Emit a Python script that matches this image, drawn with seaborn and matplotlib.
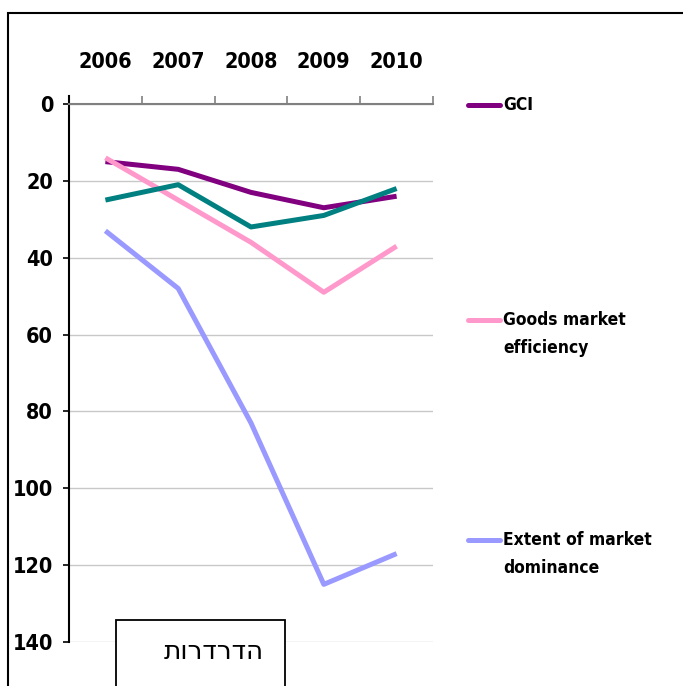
import pandas as pd
import matplotlib.pyplot as plt
import seaborn as sns
from matplotlib.lines import Line2D
from matplotlib.patches import Rectangle

# Data (ranks, lower = better)
years = ["2006", "2007", "2008", "2009", "2010"]
gci = [15, 17, 23, 27, 24]
goods_market = [14, 25, 36, 49, 37]
market_dominance = [33, 48, 83, 125, 117]
teal_series = [25, 21, 32, 29, 22]

series_names = ["GCI", "Goods market efficiency", "Extent of market dominance", "Series 4"]
legend_labels = ["GCI", "Goods market\nefficiency", "Extent of market\ndominance"]
colors = ["#800080", "#FF99CC", "#9999FF", "#008080"]
y_ticks = [0, 20, 40, 60, 80, 100, 120, 140]
box_text = "הדרדרות"

rows = []
for name, vals in zip(series_names, [gci, goods_market, market_dominance, teal_series]):
    for yr, v in zip(years, vals):
        rows.append({"year": yr, "rank": v, "series": name})
df = pd.DataFrame(rows)

sns.set_theme(style="white")
plt.rcParams["font.family"] = ["DejaVu Sans"]
plt.rcParams["font.stretch"] = "condensed"
plt.rcParams["font.weight"] = "bold"
plt.rcParams["text.color"] = "black"
plt.rcParams["xtick.color"] = "black"
plt.rcParams["ytick.color"] = "black"

W, H = 683, 686
fig = plt.figure(figsize=(W / 100, H / 100), dpi=100)
fig.patch.set_facecolor("white")

# axes box in pixels: left 69, right 433, top 104, bottom 642
ax = fig.add_axes([69 / W, 1 - 642 / H, (433 - 69) / W, (642 - 104) / H])

sns.lineplot(data=df, x="year", y="rank", hue="series", hue_order=series_names,
             palette=dict(zip(series_names, colors)), linewidth=3.6,
             legend=False, ax=ax, solid_capstyle="butt")

ax.set_xlim(-0.5, len(years) - 0.5)
ax.set_ylim(140, 0)
ax.set_xlabel("")
ax.set_ylabel("")

# x axis on top, ticks at category boundaries, labels at centres
ax.xaxis.tick_top()
ax.set_xticks([i - 0.5 for i in range(len(years) + 1)])
ax.set_xticklabels([])
ax.set_xticks(range(len(years)), minor=True)
ax.set_xticklabels(years, minor=True, fontsize=15.5, fontweight="bold")
ax.tick_params(axis="x", which="major", direction="out", length=6, width=1.2,
               color="#808080", top=True, bottom=False)
ax.tick_params(axis="x", which="minor", length=0, pad=23, top=True, bottom=False,
               labelcolor="black")

ax.set_yticks(y_ticks)
ax.set_yticklabels([str(t) for t in y_ticks], fontsize=15.5, fontweight="bold")
ax.tick_params(axis="y", direction="out", length=4.5, width=1.2, color="black",
               pad=7, left=True, labelcolor="black")

ax.grid(axis="y", color="#c8c8c8", linewidth=1)
ax.grid(axis="x", visible=False)
ax.set_axisbelow(True)

for side in ["right", "bottom"]:
    ax.spines[side].set_visible(False)
ax.spines["top"].set_color("#808080")
ax.spines["top"].set_linewidth(1.5)
ax.spines["left"].set_color("black")
ax.spines["left"].set_linewidth(1.5)
ax.spines["left"].set_bounds(140, -2.2)

# legend, one entry per label block (handle on first line)
legend_y = [105, 320, 540]
for lab, col, yy in zip(legend_labels, colors, legend_y):
    fig.add_artist(Line2D([468 / W, 500 / W], [1 - yy / H, 1 - yy / H],
                          transform=fig.transFigure, color=col, linewidth=3.6,
                          solid_capstyle="round"))
    for k, line in enumerate(lab.split("\n")):
        fig.text(503 / W, 1 - (yy + 28 * k) / H, line, fontsize=12.5,
                 fontweight="bold", ha="left", va="center", color="black")

# outer frame
fig.add_artist(Rectangle((8 / W, -0.1), 1.2, 1 - 13 / H + 0.1, transform=fig.transFigure,
                         fill=False, edgecolor="black", linewidth=1.5))

# text box at the bottom (Hebrew, reversed because matplotlib draws left to right)
fig.add_artist(Rectangle((116 / W, -0.05), (285 - 116) / W, 1 - 620 / H + 0.05,
                         transform=fig.transFigure, facecolor="white",
                         edgecolor="black", linewidth=1.3))
fig.text(214 / W, 1 - 652 / H, box_text[::-1], fontsize=19, ha="center", va="center",
         fontweight="normal", fontstretch="normal", color="black",
         family=["DejaVu Sans"])

fig.savefig("out.png", dpi=100)
